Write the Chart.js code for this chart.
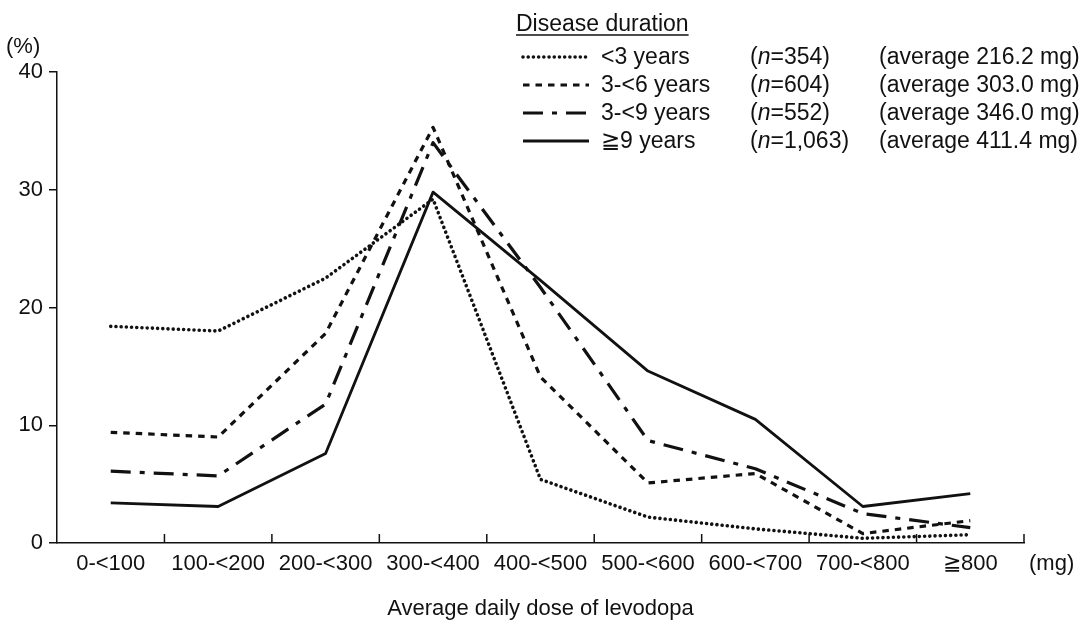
<!DOCTYPE html>
<html><head><meta charset="utf-8">
<script src="https://cdn.jsdelivr.net/npm/chart.js@4.4.1/dist/chart.umd.min.js"></script>
<style>html,body{margin:0;padding:0;background:#fff;}#wrap{width:1082px;height:626px;}</style>
</head><body><div id="wrap"><canvas id="c" width="1082" height="626"></canvas></div>
<script>
// ---- data ----
const categories = ['0-<100','100-<200','200-<300','300-<400','400-<500','500-<600','600-<700','700-<800','\u2267800'];
const under3 = [18.4, 18.0, 22.5, 29.2, 5.4, 2.2, 1.2, 0.4, 0.7];
const from3to6 = [9.4, 9.0, 17.8, 35.3, 14.1, 5.1, 5.9, 0.8, 1.9];
const from3to9 = [6.1, 5.7, 11.8, 34.0, 21.7, 8.7, 6.3, 2.5, 1.3];
const over9 = [3.4, 3.1, 7.6, 29.8, 22.3, 14.6, 10.5, 3.1, 4.2];
const durationLabels = ['<3 years', '3-<6 years', '3-<9 years', '\u22679 years'];
const nCounts = ['354', '604', '552', '1,063'];
const averageDoses = [216.2, 303.0, 346.0, 411.4];
const legendTitle = 'Disease duration';
const xTitle = 'Average daily dose of levodopa';
const xUnit = '(mg)';
const yUnit = '(%)';
const yMin = 0, yMax = 40, yStep = 10;

const FONT = "'Liberation Sans', Arial, sans-serif";
const INK = '#111';

const styles = [
  { borderDash: [0.01, 5.2], borderWidth: 3.6, borderCapStyle: 'round' },
  { borderDash: [6.5, 6], borderWidth: 3.2, borderCapStyle: 'butt' },
  { borderDash: [20, 9, 5, 9], borderWidth: 3.2, borderCapStyle: 'butt' },
  { borderDash: [], borderWidth: 2.8, borderCapStyle: 'butt' }
];
const seriesValues = [under3, from3to6, from3to9, over9];

const datasets = seriesValues.map((vals, i) => Object.assign({
  label: durationLabels[i],
  data: vals,
  borderColor: INK,
  backgroundColor: INK,
  pointRadius: 0,
  tension: 0,
  fill: false,
  borderJoinStyle: 'round'
}, styles[i]));

const extras = {
  id: 'extras',
  afterDraw(chart) {
    const ctx = chart.ctx;
    const xs = chart.scales.x, area = chart.chartArea;
    ctx.save();
    // inward tick marks on x axis at category boundaries
    ctx.strokeStyle = INK; ctx.lineWidth = 1.5; ctx.setLineDash([]);
    for (let i = 0; i < categories.length; i++) {
      let x;
      if (i < categories.length - 1) x = (xs.getPixelForValue(i) + xs.getPixelForValue(i + 1)) / 2;
      else x = area.right;
      ctx.beginPath(); ctx.moveTo(x, area.bottom); ctx.lineTo(x, area.bottom - 9); ctx.stroke();
    }
    ctx.fillStyle = INK;
    ctx.font = '22px ' + FONT;
    ctx.textBaseline = 'middle';
    // unit labels
    ctx.textAlign = 'left';
    ctx.fillText(xUnit, area.right + 5, 564);
    ctx.fillText(yUnit, 6, 47);
    // x title
    ctx.textAlign = 'center';
    ctx.fillText(xTitle, (area.left + area.right) / 2, 609);
    // legend
    const LF = '23px ' + FONT;
    ctx.font = LF;
    ctx.textAlign = 'left';
    ctx.textBaseline = 'alphabetic';
    ctx.fillText(legendTitle, 516, 31);
    const tw = ctx.measureText(legendTitle).width;
    ctx.lineWidth = 1.3;
    ctx.beginPath(); ctx.moveTo(516, 35); ctx.lineTo(516 + tw, 35); ctx.stroke();
    const rowY = [57, 85, 113, 141];
    chart.data.datasets.forEach((ds, i) => {
      const y = rowY[i];
      ctx.save();
      ctx.strokeStyle = ds.borderColor; ctx.lineWidth = ds.borderWidth;
      ctx.lineCap = ds.borderCapStyle; ctx.setLineDash(ds.borderDash);
      ctx.beginPath(); ctx.moveTo(523, y); ctx.lineTo(589, y); ctx.stroke();
      ctx.restore();
      ctx.textBaseline = 'middle';
      ctx.font = LF;
      ctx.fillText(ds.label, 601, y + 1);
      // (n=...)
      let x = 750;
      ctx.fillText('(', x, y + 1); x += ctx.measureText('(').width;
      ctx.font = 'italic ' + LF;
      ctx.fillText('n', x, y + 1); x += ctx.measureText('n').width;
      ctx.font = LF;
      ctx.fillText('=' + nCounts[i] + ')', x, y + 1);
      ctx.fillText('(average ' + averageDoses[i].toFixed(1) + ' mg)', 879, y + 1);
    });
    ctx.restore();
  }
};

new Chart(document.getElementById('c'), {
  type: 'line',
  data: { labels: categories, datasets },
  options: {
    responsive: false,
    animation: false,
    devicePixelRatio: 1,
    layout: { padding: { top: 72, right: 58, left: 0, bottom: 0 } },
    plugins: { legend: { display: false }, tooltip: { enabled: false }, title: { display: false } },
    scales: {
      x: {
        type: 'category',
        offset: true,
        grid: { display: true, drawOnChartArea: false, drawTicks: false, color: 'rgba(0,0,0,0)' },
        border: { display: true, color: INK, width: 1.5 },
        ticks: { color: INK, font: { family: FONT, size: 22 }, padding: 8, maxRotation: 0, autoSkip: false },
        afterFit(s) { s.height = 83; }
      },
      y: {
        min: yMin, max: yMax,
        grid: { display: true, drawOnChartArea: false, drawTicks: true, tickLength: 8, color: INK, lineWidth: 1.5 },
        border: { display: true, color: INK, width: 1.5 },
        ticks: { stepSize: yStep, color: INK, font: { family: FONT, size: 22 }, padding: 6 },
        afterFit(s) { s.width = 57; }
      }
    }
  },
  plugins: [extras]
});
</script></body></html>
